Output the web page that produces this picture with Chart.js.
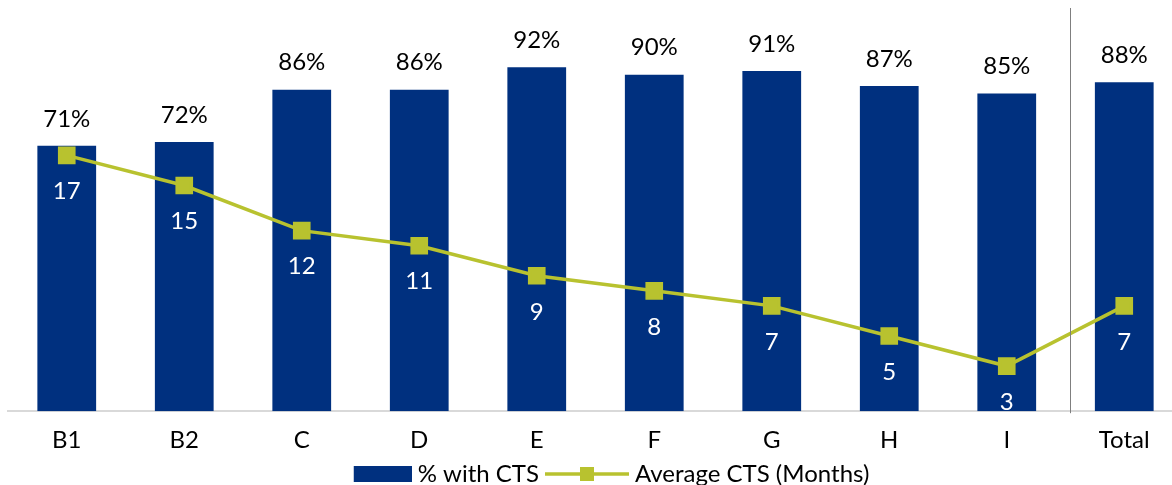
<!DOCTYPE html>
<html lang="en">
<head>
    <meta charset="UTF-8">
    <script src="https://cdn.jsdelivr.net/npm/chart.js"></script>
    <title>CTS by group</title>
    <style>
        html, body {
            margin: 0;
            padding: 0;
            background: #ffffff;
            overflow: hidden;
        }
        .wrap {
            width: 1172px;
            height: 485px;
            overflow: hidden;
        }
    </style>
</head>
<body>
    <div class="wrap">
        <!-- a little wider than the window: the last bar's slot runs past the edge -->
        <canvas id="ctsChart" width="1183" height="485"></canvas>
    </div>

    <script>
        // Chart values
        const groups = ['B1', 'B2', 'C', 'D', 'E', 'F', 'G', 'H', 'I', 'Total'];
        const pctWithCts = [71, 72, 86, 86, 92, 90, 91, 87, 85, 88];
        const avgCtsMonths = [17, 15, 12, 11, 9, 8, 7, 5, 3, 7];

        const navy = '#00307f';
        const olive = '#b8c22f';
        const fontFamily = 'Lato, "Open Sans", sans-serif';
        const fontSize = 24;

        // legend swatches: a plain box for the bars, a line with a square for the series
        // (image is a bit wider than the legend box so it sits close to the text)
        function swatch(kind) {
            const c = document.createElement('canvas');
            c.width = 96;
            c.height = 18;
            const g = c.getContext('2d');
            if (kind === 'bar') {
                g.fillStyle = navy;
                g.fillRect(38, 1, 58, 16);
            } else {
                g.strokeStyle = olive;
                g.lineWidth = 3.5;
                g.beginPath();
                g.moveTo(12, 9);
                g.lineTo(96, 9);
                g.stroke();
                g.fillStyle = olive;
                g.fillRect(47, 2, 14, 14);
            }
            return c;
        }

        // value labels plus the divider before "Total"
        const labelPlugin = {
            id: 'ctsLabels',
            afterDatasetsDraw(chart) {
                const ctx = chart.ctx;
                ctx.save();
                ctx.font = fontSize + 'px ' + fontFamily;
                ctx.textAlign = 'center';
                ctx.textBaseline = 'middle';

                chart.getDatasetMeta(0).data.forEach((bar, i) => {
                    ctx.fillStyle = '#000000';
                    ctx.fillText(pctWithCts[i] + '%', bar.x, bar.y - 27);
                });
                chart.getDatasetMeta(1).data.forEach((pt, i) => {
                    ctx.fillStyle = '#ffffff';
                    ctx.fillText(avgCtsMonths[i], pt.x, pt.y + 36);
                });

                const xScale = chart.scales.x;
                const area = chart.chartArea;
                const sepX = Math.round(xScale.getPixelForValue(8.54)) + 0.5;
                ctx.strokeStyle = '#7f7f7f';
                ctx.lineWidth = 1;
                ctx.beginPath();
                ctx.moveTo(sepX, 8);
                ctx.lineTo(sepX, area.bottom + 2);
                ctx.stroke();
                ctx.restore();
            }
        };

        const ctx = document.getElementById('ctsChart').getContext('2d');
        new Chart(ctx, {
            data: {
                labels: groups,
                datasets: [
                    {
                        type: 'bar',
                        label: '% with CTS',
                        data: pctWithCts,
                        backgroundColor: navy,
                        borderWidth: 0,
                        yAxisID: 'y',
                        barPercentage: 0.5,
                        categoryPercentage: 1,
                        order: 2
                    },
                    {
                        type: 'line',
                        label: 'Average CTS (Months)',
                        data: avgCtsMonths,
                        borderColor: olive,
                        backgroundColor: olive,
                        borderWidth: 3.5,
                        pointStyle: 'rect',
                        pointRadius: 10,
                        pointHoverRadius: 10,
                        tension: 0,
                        clip: false,
                        yAxisID: 'y2',
                        order: 1
                    }
                ]
            },
            options: {
                responsive: false,
                animation: false,
                layout: {
                    autoPadding: false,
                    padding: { left: 8, right: 0, top: 0, bottom: -11 }
                },
                scales: {
                    x: {
                        grid: { display: false },
                        border: { display: true, color: '#d9d9d9', width: 2 },
                        ticks: {
                            color: '#000000',
                            padding: 7,
                            font: { family: fontFamily, size: fontSize }
                        }
                    },
                    y: {
                        display: false,
                        min: 0,
                        max: 110
                    },
                    y2: {
                        display: false,
                        min: 0,
                        max: 27.33
                    }
                },
                plugins: {
                    tooltip: { enabled: false },
                    legend: {
                        position: 'bottom',
                        labels: {
                            usePointStyle: true,
                            pointStyleWidth: 84,
                            padding: 0,
                            color: '#000000',
                            font: { family: fontFamily, size: fontSize },
                            generateLabels(chart) {
                                return chart.data.datasets.map((ds, i) => ({
                                    text: ds.label,
                                    datasetIndex: i,
                                    pointStyle: i === 0 ? swatch('bar') : swatch('line'),
                                    fillStyle: ds.backgroundColor,
                                    strokeStyle: ds.backgroundColor,
                                    lineWidth: 0,
                                    hidden: false,
                                    fontColor: '#000000'
                                }));
                            }
                        }
                    }
                }
            },
            plugins: [labelPlugin]
        });
    </script>
</body>
</html>
